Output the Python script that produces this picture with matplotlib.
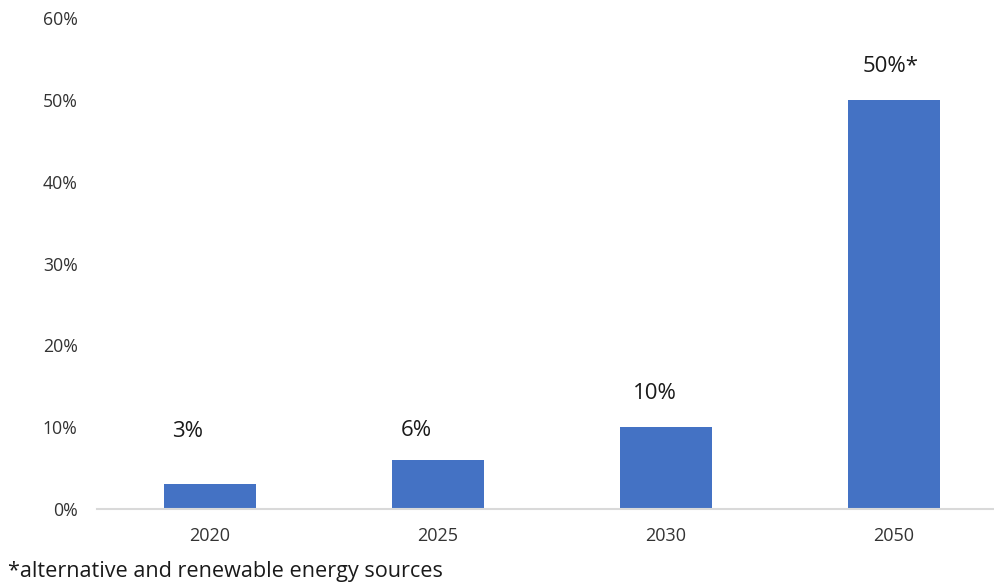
import numpy as np
import matplotlib.pyplot as plt

years = ["2020", "2025", "2030", "2050"]
shares = [3, 6, 10, 50]
value_labels = ["3%", "6%", "10%", "50%*"]
yticks = [0, 10, 20, 30, 40, 50, 60]
note = "*alternative and renewable energy sources"

# label placement above each bar, in pixels (dx from bar centre, dy from bar top)
label_dx = [-23, -22, -11, -3]
label_dy = [53, 29, 34, 33]

plt.rcParams["font.family"] = ["Open Sans", "DejaVu Sans"]

fig = plt.figure(figsize=(9.95, 5.84), dpi=100)
ax = fig.add_axes([0.0975, 0.1284, 0.9025, 0.8408])

x = np.arange(len(years))
ax.bar(x, shares, width=0.40, color="#4472C4", zorder=2)

for xi, v, lab, dx, dy in zip(x, shares, value_labels, label_dx, label_dy):
    ax.annotate(lab, (xi, v), xytext=(dx * 0.72, dy * 0.72), textcoords="offset points",
                ha="center", va="center", fontsize=16, color="#1a1a1a")

ax.set_xlim(-0.496, 3.443)
ax.set_ylim(0, 60)
ax.set_xticks(x)
ax.set_xticklabels(years)
ax.set_yticks(yticks)
ax.set_yticklabels([f"{t}%" for t in yticks])
ax.tick_params(axis="x", length=0, labelsize=13, colors="#333333", pad=13)
ax.tick_params(axis="y", length=0, labelsize=12.7, colors="#333333", pad=14)

for side in ["top", "right", "left"]:
    ax.spines[side].set_visible(False)
ax.spines["bottom"].set_color("#D9D9D9")
ax.spines["bottom"].set_linewidth(1.5)

fig.text(8 / 995, 1 - 572 / 584, note, ha="left", va="center", fontsize=15.6, color="#1a1a1a")

fig.savefig("out.png", dpi=100)
